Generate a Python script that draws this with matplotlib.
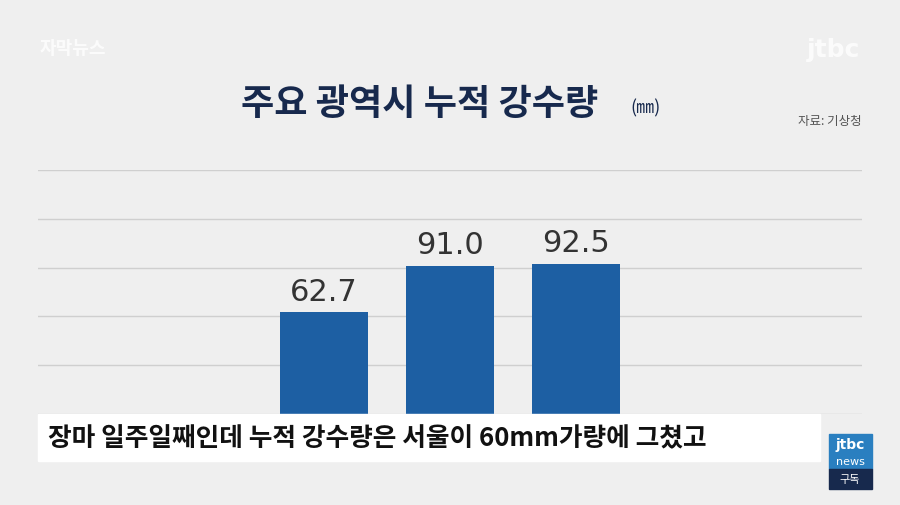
import matplotlib
matplotlib.use("Agg")
import matplotlib.pyplot as plt
from matplotlib.patches import Rectangle

plt.rcParams["font.family"] = "Noto Sans CJK KR"

# data (category labels are hidden behind the caption)
cities = ["서울", "대전", "광주"]
rain_mm = [62.7, 91.0, 92.5]
grid_ticks = [0, 30, 60, 90, 120, 150]

W, H = 900, 506
fig = plt.figure(figsize=(W / 100, H / 100), dpi=100)
fig.patch.set_facecolor("#efefef")

ax = fig.add_axes([38 / W, 91 / H, 824 / W, 244 / H])
ax.set_facecolor("#efefef")
ax.set_xlim(-2.27, 4.27)
ax.set_ylim(0, 150)
ax.set_yticks(grid_ticks)
ax.grid(axis="y", color="#cfcfcf", lw=1)
ax.set_axisbelow(True)
ax.tick_params(left=False, bottom=False, labelleft=False, labelbottom=False)
for s in ax.spines.values():
    s.set_visible(False)

xs = list(range(len(cities)))
ax.bar(xs, rain_mm, width=0.7, color="#1d5fa3", tick_label=cities)
for x, v in zip(xs, rain_mm):
    ax.text(x, v + 4, f"{v:.1f}", ha="center", va="bottom", fontsize=22,
            color="#333333", family="DejaVu Sans")

# title and source
fig.text(420 / W, 1 - 105 / H, "주요 광역시 누적 강수량", ha="center", va="center",
         fontsize=26, fontweight="bold", color="#17294d")
fig.text(645 / W, 1 - 108 / H, "(㎜)", ha="center", va="center",
         fontsize=13, color="#17294d")
fig.text(862 / W, 1 - 122 / H, "자료: 기상청", ha="right", va="center",
         fontsize=9, color="#555555")

# watermarks
fig.text(40 / W, 1 - 48 / H, "자막뉴스", ha="left", va="center", fontsize=13,
         color="white", alpha=0.8, fontweight="bold")
fig.text(860 / W, 1 - 50 / H, "jtbc", ha="right", va="center", fontsize=18,
         color="white", alpha=0.8, fontweight="bold", family="DejaVu Sans")

# caption box
fig.patches.append(Rectangle((38 / W, 1 - 462 / H), 782 / W, 47 / H,
                             transform=fig.transFigure, color="white", zorder=5))
fig.text(48 / W, 1 - 439 / H, "장마 일주일째인데 누적 강수량은 서울이 60mm가량에 그쳤고",
         ha="left", va="center", fontsize=18.5, fontweight="bold", color="#111111", zorder=6)

# jtbc news badge
fig.patches.append(Rectangle((829 / W, 1 - 470 / H), 43 / W, 35 / H,
                             transform=fig.transFigure, color="#2a7fc0", zorder=5))
fig.patches.append(Rectangle((829 / W, 1 - 490 / H), 43 / W, 20 / H,
                             transform=fig.transFigure, color="#17294d", zorder=5))
fig.text(850 / W, 1 - 445 / H, "jtbc", ha="center", va="center", fontsize=10,
         color="white", fontweight="bold", zorder=6, family="DejaVu Sans")
fig.text(850 / W, 1 - 462 / H, "news", ha="center", va="center", fontsize=8,
         color="white", zorder=6, family="DejaVu Sans")
fig.text(850 / W, 1 - 480 / H, "구독", ha="center", va="center", fontsize=8,
         color="white", zorder=6)

fig.savefig("out.png", dpi=100)
